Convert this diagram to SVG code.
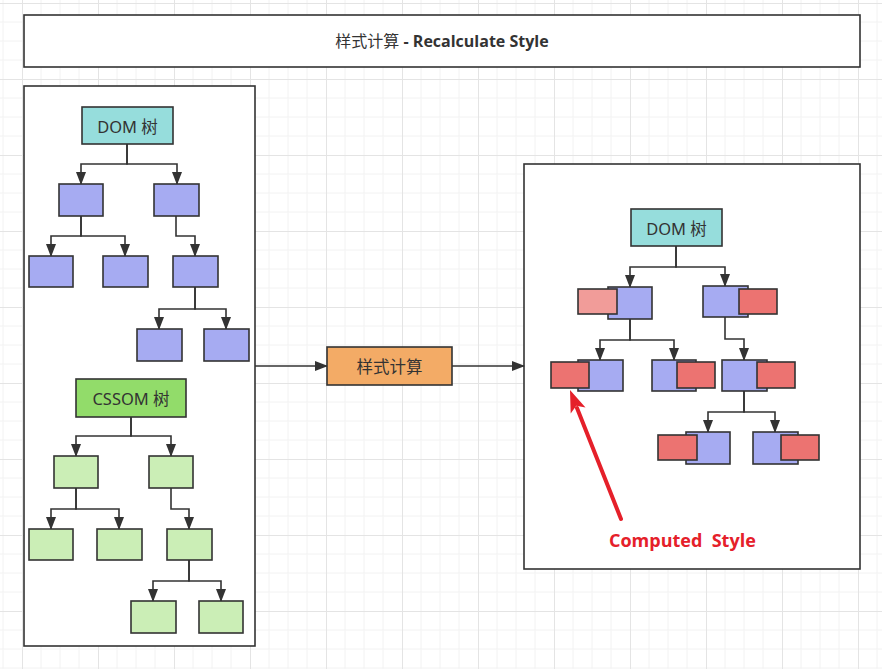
<svg xmlns="http://www.w3.org/2000/svg" width="882" height="669" viewBox="0 0 882 669">
<style>
.n{stroke:#333;stroke-width:1.6}
.blue{fill:#A6ABF2}
.lg{fill:#CBEEB6}
.red{fill:#EC7371}
.pink{fill:#F19C99}
.panel{fill:#fff;stroke:#333;stroke-width:1.6}
.lbl{font-family:"Noto Sans","Noto Sans CJK SC",sans-serif;font-size:16.5px;fill:#333;text-anchor:middle;dominant-baseline:central}
.e{fill:none;stroke:#333;stroke-width:1.6}
</style>
<defs>
<pattern id="grid" patternUnits="userSpaceOnUse" x="22" y="3" width="76" height="76">
<path d="M19,0V76M38,0V76M57,0V76M0,19H76M0,38H76M0,57H76" stroke="#f2f2f2" stroke-width="1" fill="none"/>
<path d="M0.5,0V76M0,0.5H76" stroke="#e4e4e4" stroke-width="1" fill="none"/>
</pattern>
<marker id="arr" viewBox="0 0 13 10" refX="12" refY="5" markerWidth="13" markerHeight="10" orient="auto" markerUnits="userSpaceOnUse">
<path d="M0,0 L13,5 L0,10 Z" fill="#333"/>
</marker>
</defs>
<rect width="882" height="669" fill="#fff"/>
<rect width="882" height="669" fill="url(#grid)"/>

<g id="title">
<rect x="24" y="15" width="836" height="52" class="panel"/>
<text x="442" y="41" class="lbl" style="font-family:'Open Sans','Noto Sans CJK SC',sans-serif;font-weight:bold;font-size:16px"><tspan style="font-weight:normal">样式计算</tspan> - Recalculate Style</text>
</g>

<g id="left-panel"><rect x="24" y="86" width="231" height="560" class="panel"/></g>
<g id="right-panel"><rect x="524" y="164" width="336" height="405" class="panel"/></g>

<g id="connectors">
<path class="e" marker-end="url(#arr)" d="M127,144V164H81V184"/>
<path class="e" marker-end="url(#arr)" d="M127,144V164H177V184"/>
<path class="e" marker-end="url(#arr)" d="M81,216V236H51V256"/>
<path class="e" marker-end="url(#arr)" d="M81,216V236H125V256"/>
<path class="e" marker-end="url(#arr)" d="M176,216V236H195V256"/>
<path class="e" marker-end="url(#arr)" d="M195,287V309H159V329"/>
<path class="e" marker-end="url(#arr)" d="M195,287V309H226V329"/>

<path class="e" marker-end="url(#arr)" d="M131,417V436H76V456"/>
<path class="e" marker-end="url(#arr)" d="M131,417V436H171V456"/>
<path class="e" marker-end="url(#arr)" d="M76,488V509H51V529"/>
<path class="e" marker-end="url(#arr)" d="M76,488V509H119V529"/>
<path class="e" marker-end="url(#arr)" d="M171,488V509H189V529"/>
<path class="e" marker-end="url(#arr)" d="M189,560V581H153V601"/>
<path class="e" marker-end="url(#arr)" d="M189,560V581H221V601"/>

<path class="e" marker-end="url(#arr)" d="M255,366H327"/>
<path class="e" marker-end="url(#arr)" d="M452,366H524"/>

<path class="e" marker-end="url(#arr)" d="M676,246V267H630V287"/>
<path class="e" marker-end="url(#arr)" d="M676,246V267H725V286"/>
<path class="e" marker-end="url(#arr)" d="M630,319V340H600V360"/>
<path class="e" marker-end="url(#arr)" d="M630,319V340H674V360"/>
<path class="e" marker-end="url(#arr)" d="M725,317V339H744V360"/>
<path class="e" marker-end="url(#arr)" d="M744,391V412H708V432"/>
<path class="e" marker-end="url(#arr)" d="M744,391V412H775V432"/>
</g>

<g id="dom-left">
<rect x="82" y="107" width="91" height="37" class="n" fill="#96DDDC"/>
<text x="127.5" y="126" class="lbl">DOM 树</text>
</g>
<g id="dl1a"><rect x="59" y="184" width="44" height="32" class="n blue"/></g>
<g id="dl1b"><rect x="154" y="184" width="45" height="32" class="n blue"/></g>
<g id="dl2a"><rect x="29" y="256" width="44" height="31" class="n blue"/></g>
<g id="dl2b"><rect x="103" y="256" width="45" height="31" class="n blue"/></g>
<g id="dl2c"><rect x="173" y="256" width="45" height="31" class="n blue"/></g>
<g id="dl3a"><rect x="137" y="329" width="45" height="32" class="n blue"/></g>
<g id="dl3b"><rect x="204" y="329" width="45" height="32" class="n blue"/></g>

<g id="cssom">
<rect x="76" y="379" width="110" height="38" class="n" fill="#92DC6A"/>
<text x="131" y="398" class="lbl">CSSOM 树</text>
</g>
<g id="cl1a"><rect x="54" y="456" width="44" height="32" class="n lg"/></g>
<g id="cl1b"><rect x="149" y="456" width="44" height="32" class="n lg"/></g>
<g id="cl2a"><rect x="29" y="529" width="44" height="31" class="n lg"/></g>
<g id="cl2b"><rect x="97" y="529" width="45" height="31" class="n lg"/></g>
<g id="cl2c"><rect x="167" y="529" width="45" height="31" class="n lg"/></g>
<g id="cl3a"><rect x="131" y="601" width="45" height="32" class="n lg"/></g>
<g id="cl3b"><rect x="199" y="601" width="44" height="32" class="n lg"/></g>

<g id="style-calc">
<rect x="327" y="347" width="125" height="38" class="n" fill="#F3AB66"/>
<text x="389.5" y="366" class="lbl">样式计算</text>
</g>

<g id="dom-right">
<rect x="631" y="209" width="91" height="37" class="n" fill="#96DDDC"/>
<text x="676.5" y="228" class="lbl">DOM 树</text>
</g>
<g id="rl1a">
<rect x="608" y="287" width="44" height="32" class="n blue"/>
<rect x="578" y="289" width="39" height="25" class="n pink"/>
</g>
<g id="rl1b">
<rect x="703" y="286" width="45" height="31" class="n blue"/>
<rect x="739" y="289" width="38" height="25" class="n red"/>
</g>
<g id="rl2a">
<rect x="578" y="360" width="45" height="31" class="n blue"/>
<rect x="551" y="362" width="38" height="26" class="n red"/>
</g>
<g id="rl2b">
<rect x="652" y="360" width="44" height="31" class="n blue"/>
<rect x="677" y="362" width="38" height="26" class="n red"/>
</g>
<g id="rl2c">
<rect x="722" y="360" width="45" height="31" class="n blue"/>
<rect x="757" y="362" width="38" height="26" class="n red"/>
</g>
<g id="rl3a">
<rect x="686" y="432" width="44" height="32" class="n blue"/>
<rect x="658" y="435" width="39" height="25" class="n red"/>
</g>
<g id="rl3b">
<rect x="753" y="432" width="45" height="32" class="n blue"/>
<rect x="781" y="435" width="38" height="25" class="n red"/>
</g>

<g id="computed-style">
<path d="M621,519L577,408" stroke="#E5202A" stroke-width="4" fill="none" stroke-linecap="round"/>
<polygon points="570,390 585.5,407.5 576.3,405.8 570.7,413.4" fill="#E5202A"/>
<text x="609" y="547" style="font-family:'Open Sans','Liberation Sans',sans-serif;font-weight:bold;font-size:18px;fill:#E5202A;stroke:#fff;stroke-width:2.5;paint-order:stroke;white-space:pre" xml:space="preserve">Computed  Style</text>
</g>
</svg>
